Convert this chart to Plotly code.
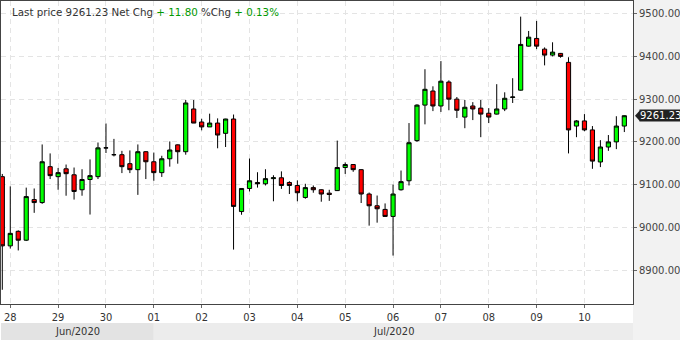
import pandas as pd
import plotly.graph_objects as go

# 4-hour candles, first one opens 2020-06-27 20:00
start_time = "2020-06-27 20:00"
opens = [9118.6, 8956.7, 8990.8, 8970, 9065, 9058, 9142, 9118.6, 9137, 9123, 9088, 9112, 9118.6, 9186,
         9170, 9170, 9149, 9135, 9177, 9153.5, 9128, 9160.5, 9193, 9177, 9277, 9246.5, 9235, 9244,
         9220, 9253.5, 9037, 9091, 9105, 9102, 9114, 9116, 9105, 9098, 9070, 9093, 9088, 9080,
         9086, 9140, 9147, 9135, 9078, 9050.5, 9042, 9025.6, 9088, 9109, 9203, 9286, 9319, 9284,
         9340, 9300, 9258, 9284, 9279, 9267, 9265, 9277, 9304, 9321, 9424, 9442, 9417, 9403,
         9407, 9386, 9237, 9249, 9228, 9153, 9188, 9200, 9237]
highs = [9125, 9096, 8993, 9093, 9091, 9194, 9173, 9139, 9147, 9140, 9136, 9159, 9198.5, 9243,
         9207, 9179, 9180, 9194, 9178, 9175, 9167.5, 9201, 9194, 9298, 9298, 9254, 9266, 9255,
         9254, 9264, 9091, 9161, 9129, 9136, 9122, 9131, 9108, 9110, 9102, 9098, 9089, 9088,
         9203, 9152, 9148, 9136, 9081.5, 9074.5, 9056, 9100, 9133, 9244, 9288, 9370, 9330, 9389,
         9344, 9305, 9298, 9293, 9298, 9279, 9335, 9316, 9349, 9493, 9459.5, 9483, 9421, 9433,
         9408, 9398, 9251, 9265, 9237, 9204, 9216, 9260, 9262]
lows = [8854, 8950.5, 8946, 8968, 9034, 9055, 9113, 9088, 9074, 9065, 9074, 9030, 9113, 9174,
        9166, 9127, 9127, 9076, 9113, 9109, 9118, 9142, 9149, 9170, 9244, 9227, 9235, 9185,
        9188, 8948, 9029.5, 9084, 9093, 9098, 9061, 9090, 9078, 9061, 9067, 9081, 9060, 9062,
        9085, 9125, 9130, 9057, 9004, 9011, 9025, 8934, 9086, 9098, 9200, 9241, 9272, 9270,
        9274, 9256, 9232, 9251, 9211, 9244, 9264, 9272, 9291, 9320, 9423, 9417, 9379, 9400,
        9397, 9173, 9211, 9225, 9137, 9141, 9179, 9183, 9223]
closes = [8956.7, 8986, 8970, 9072, 9058, 9153.5, 9121, 9128, 9125.6, 9084, 9112, 9121, 9186, 9186,
          9170, 9142, 9135, 9177, 9153.5, 9128, 9160.5, 9181, 9177, 9291, 9244, 9235, 9244, 9216,
          9253.5, 9049, 9091, 9109, 9102, 9114, 9116, 9098, 9098, 9081, 9093, 9088, 9078, 9077,
          9140, 9147, 9135, 9078, 9050.5, 9043.5, 9025.6, 9078, 9107, 9198, 9286, 9323, 9284, 9342,
          9300, 9274, 9281, 9277, 9265, 9258, 9277, 9302, 9305, 9428, 9445, 9424, 9403, 9410,
          9400, 9228, 9249, 9228, 9155, 9188, 9200, 9237, 9261.23]

net_chg = 11.80
pct_chg = 0.13
month_labels = ["Jun/2020", "Jul/2020"]
day_ticks = ["2020-06-28", "2020-06-29", "2020-06-30", "2020-07-01", "2020-07-02", "2020-07-03",
             "2020-07-04", "2020-07-05", "2020-07-06", "2020-07-07", "2020-07-08", "2020-07-09",
             "2020-07-10"]
y_ticks = [8900, 9000, 9100, 9200, 9300, 9400, 9500]

times = pd.date_range(start_time, periods=len(opens), freq="4h")
last_price = closes[-1]

x0 = pd.Timestamp("2020-06-27 19:21")
x1 = pd.Timestamp("2020-07-11 00:21")
jul1 = pd.Timestamp("2020-07-01 00:00")
jul_frac = (jul1 - x0) / (x1 - x0)

y_lo, y_hi = 8820.7, 9529.6

fig = go.Figure()
fig.add_trace(go.Candlestick(
    x=times, open=opens, high=highs, low=lows, close=closes,
    increasing=dict(fillcolor="#00ff00", line=dict(color="#000000", width=1)),
    decreasing=dict(fillcolor="#ff0000", line=dict(color="#000000", width=1)),
    whiskerwidth=0, showlegend=False, hoverinfo="skip",
))

grid = "#e4e4e4"
narrow = "DejaVu Sans Condensed, Liberation Sans Narrow, DejaVu Sans"
fig.update_layout(
    width=680, height=340,
    margin=dict(l=0, r=46, t=0, b=36),
    paper_bgcolor="#ffffff", plot_bgcolor="#ffffff",
    boxgap=0.25,
    showlegend=False,
    xaxis=dict(
        type="date", range=[x0, x1], rangeslider=dict(visible=False),
        tickvals=day_ticks, ticktext=[d[-2:] for d in day_ticks],
        showgrid=True, gridcolor=grid, griddash="5px,4px", gridwidth=1,
        showline=True, linecolor="#444444", linewidth=1, mirror=True,
        ticks="outside", ticklen=3, tickcolor="#666666",
        tickfont=dict(family=narrow, size=11, color="#333333"),
        fixedrange=True, zeroline=False,
    ),
    yaxis=dict(
        side="right", range=[y_lo, y_hi], tickvals=y_ticks,
        ticktext=[f"{v:.2f}" for v in y_ticks],
        showgrid=True, gridcolor=grid, griddash="5px,4px", gridwidth=1,
        showline=True, linecolor="#444444", linewidth=1, mirror=True,
        ticks="outside", ticklen=3, tickcolor="#666666",
        tickfont=dict(family="DejaVu Sans", size=10, color="#444444"),
        fixedrange=True, zeroline=False,
    ),
    shapes=[
        dict(type="rect", xref="paper", yref="paper", x0=1, x1=1.1, y0=-0.2, y1=1.1,
             fillcolor="#f2f2f2", line=dict(width=0), layer="below"),
        dict(type="rect", xref="paper", yref="paper", x0=0, x1=jul_frac, y0=-0.1184, y1=-0.0625,
             fillcolor="#e3e3e3", line=dict(width=0), layer="below"),
        dict(type="rect", xref="paper", yref="paper", x0=jul_frac, x1=1, y0=-0.1184, y1=-0.0625,
             fillcolor="#ececec", line=dict(width=0), layer="below"),
    ],
)

# last price tag
px_per_val = 304 / (y_hi - y_lo)
half = 5.5 / px_per_val
fig.add_shape(type="path", xref="paper", yref="y",
              path=f"M {636/634},{last_price} L {641/634},{last_price+half} L {641/634},{last_price-half} Z",
              fillcolor="#222222", line=dict(width=0))
fig.add_annotation(xref="paper", yref="y", x=1, y=last_price, xanchor="left", yanchor="middle",
                   xshift=6, text=f"{last_price:.2f}", showarrow=False, bgcolor="#222222",
                   borderpad=0, font=dict(family="DejaVu Sans", size=10, color="#ffffff"))

green = "#009900"
fig.add_annotation(
    xref="paper", yref="paper", x=9/634, y=1 - 10.7/304, xanchor="left", yanchor="middle",
    showarrow=False,
    text=(f"Last price {last_price:.2f} Net Chg <span style='color:{green}'>+ {net_chg:.2f}</span>"
          f" %Chg <span style='color:{green}'>+ {pct_chg:.2f}%</span>"),
    font=dict(family="DejaVu Sans", size=10.3, color="#333333"),
)

for lbl, cx in zip(month_labels, [jul_frac / 2, (jul_frac + 1) / 2]):
    fig.add_annotation(xref="paper", yref="paper", x=cx, y=-0.0905, xanchor="center", yanchor="middle",
                       showarrow=False, text=lbl,
                       font=dict(family=narrow, size=11, color="#333333"))

fig.write_html("out.html")
